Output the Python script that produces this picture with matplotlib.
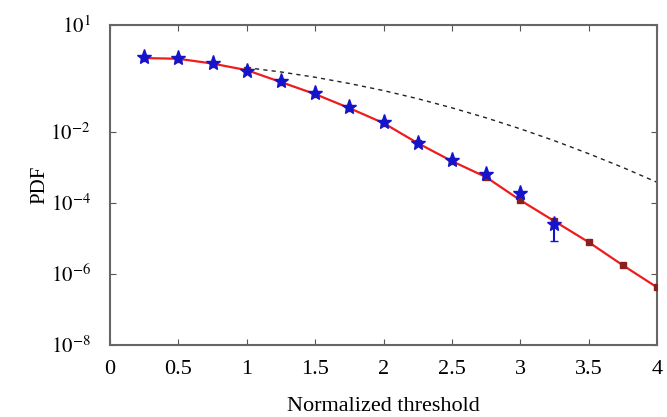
import numpy as np
import matplotlib
matplotlib.use("Agg")
import matplotlib.pyplot as plt

plt.rcParams['font.family'] = ['Liberation Serif', 'DejaVu Serif']
plt.rcParams['mathtext.fontset'] = 'stix'

# Simulated PDF (stars with error bar)
x_sim = [0.25, 0.5, 0.75, 1.0, 1.25, 1.5, 1.75, 2.0, 2.25, 2.5, 2.75, 3.0, 3.25]
log_sim = [0.099, 0.085, -0.070, -0.282, -0.577, -0.915, -1.310, -1.732,
           -2.324, -2.803, -3.183, -3.732, -4.606]
log_sim_low = [None] * 12 + [-5.085]

# Analytical PDF (solid red with squares)
x_ana = [0.25, 0.5, 0.75, 1.0, 1.25, 1.5, 1.75, 2.0, 2.25, 2.5, 2.75, 3.0,
         3.25, 3.5, 3.75, 4.0]
log_ana = [0.07, 0.05, -0.085, -0.27, -0.606, -0.944, -1.338, -1.76, -2.324,
           -2.83, -3.28, -3.93, -4.52, -5.11, -5.76, -6.38]

# Reference curve (dashed)
x_ref = [1.0, 1.25, 1.5, 1.75, 2.0, 2.25, 2.5, 2.75, 3.0, 3.25, 3.5, 3.75, 4.0]
log_ref = [-0.200, -0.321, -0.470, -0.645, -0.845, -1.073, -1.330, -1.611,
           -1.921, -2.256, -2.620, -3.008, -3.425]

y_sim = 10.0 ** np.array(log_sim)
y_ana = 10.0 ** np.array(log_ana)
y_ref = 10.0 ** np.array(log_ref)
err_low = np.array([0 if v is None else 10.0 ** log_sim[i] - 10.0 ** v
                    for i, v in enumerate(log_sim_low)])
err_up = np.zeros_like(err_low)

fig = plt.figure(figsize=(6.67, 4.17), dpi=100)
ax = fig.add_axes([0.165, 0.173, 0.82, 0.767])

ax.plot(x_ref, y_ref, '--', color='#222222', lw=1.0, dashes=(3, 3))
ax.plot(x_ana, y_ana, '-', color='#ee1c1c', lw=1.6, marker='s',
        markersize=5, markerfacecolor='#8b1f1f', markeredgecolor='#8b1f1f',
        zorder=3)
ax.errorbar(x_sim, y_sim, yerr=[err_low, err_up], fmt='*', color='#1414cc',
            markersize=11, ecolor='#1414cc', elinewidth=1.5, capsize=3,
            zorder=4, linestyle='none')

ax.set_yscale('log')
ax.set_xlim(0, 4)
ax.set_ylim(1e-8, 1e1)
ax.set_yticks([1e1, 1e-2, 1e-4, 1e-6, 1e-8])
ax.set_yticklabels([r'$10^{1}$', r'$10^{-2}$', r'$10^{-4}$', r'$10^{-6}$',
                    r'$10^{-8}$'])
ax.yaxis.set_minor_locator(matplotlib.ticker.NullLocator())
ax.set_xticks([0, 0.5, 1, 1.5, 2, 2.5, 3, 3.5, 4])
ax.set_xticklabels(['0', '0.5', '1', '1.5', '2', '2.5', '3', '3.5', '4'])

ax.tick_params(direction='in', top=True, right=True, length=4, width=0.8,
               color='#555555')
ax.tick_params(axis='x', pad=11, labelsize=16)
ax.tick_params(axis='y', pad=14, labelsize=15)
for s in ax.spines.values():
    s.set_color('#666666')
    s.set_linewidth(1.5)

ax.set_xlabel('Normalized threshold', fontsize=16, labelpad=13)
ax.set_ylabel('PDF', fontsize=15, labelpad=1)

fig.savefig('out.png', dpi=100)
